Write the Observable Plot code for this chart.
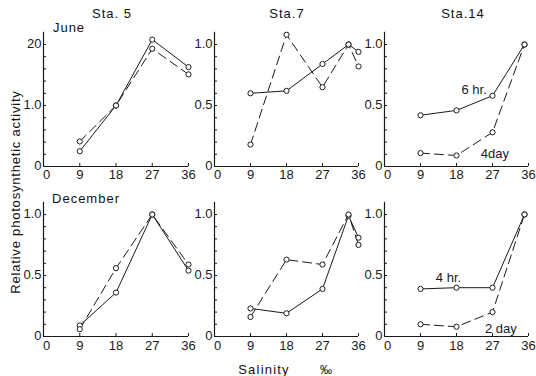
<!DOCTYPE html>
<html><head><meta charset="utf-8">
<script src="https://cdn.jsdelivr.net/npm/d3@7"></script>
<script src="https://cdn.jsdelivr.net/npm/@observablehq/plot@0.6"></script>
<style>
html,body{margin:0;padding:0;background:#fff;}
#wrap{position:relative;width:536px;height:376px;overflow:hidden;font-family:"Liberation Sans",sans-serif;color:#111;}
#wrap svg{position:absolute;left:0;top:0;}
.lbl{position:absolute;transform:translate(-50%,-50%);white-space:nowrap;font-size:13px;line-height:1;}
</style></head><body><div id="wrap"></div>
<script>
// ---- data ----
const salinity5 = [9, 18, 27, 36];
const salinity7 = [9, 18, 27, 33.5, 36];
const salinity14 = [9, 18, 27, 35];

const june5Solid = [0.25, 1.0, 2.08, 1.63];
const june5Dashed = [0.41, 1.0, 1.93, 1.51];
const june7Solid = [0.60, 0.62, 0.84, 1.0, 0.94];
const june7Dashed = [0.18, 1.08, 0.65, 1.0, 0.82];
const june14Solid = [0.42, 0.46, 0.58, 1.0];
const june14Dashed = [0.11, 0.09, 0.28, 1.0];

const dec5Solid = [0.09, 0.36, 1.0, 0.54];
const dec5Dashed = [0.06, 0.56, 1.0, 0.59];
const dec7Solid = [0.23, 0.19, 0.39, 0.99, 0.81];
const dec7Dashed = [0.16, 0.63, 0.59, 1.0, 0.75];
const dec14Solid = [0.39, 0.40, 0.40, 1.0];
const dec14Dashed = [0.10, 0.08, 0.20, 1.0];

const xTickLabels = [9, 18, 27, 36];
const xOriginLabel = [0];
const yTicksBig = [0, 1, 2];
const yTickTextBig = ["0", "1.0", "20"];
const yTicks = [0, 0.5, 1];
const yTickText = ["0", "0.5", "1.0"];
const stations = ["Sta. 5", "Sta.7", "Sta.14"];
const seasons = ["June", "December"];

// ---- layout ----
const W = 536, H = 376;
const cols = [{x0: 43, x1: 188}, {x0: 214, x1: 358}, {x0: 384, x1: 528}];
const rows = [{y0: 166, yTop: 31.8, pad: 3}, {y0: 336, yTop: 201.8, pad: 4}];

const wrap = document.getElementById("wrap");

const panels = [
  {c: 0, r: 0, xs: salinity5, solid: june5Solid, dashed: june5Dashed, ymax: 2.2, minor: d3.range(0.2, 2.11, 0.2), ticks: yTicksBig, tickText: yTickTextBig},
  {c: 1, r: 0, xs: salinity7, solid: june7Solid, dashed: june7Dashed, ymax: 1.1, minor: d3.range(0.1, 1.051, 0.1), ticks: yTicks, tickText: yTickText},
  {c: 2, r: 0, xs: salinity14, solid: june14Solid, dashed: june14Dashed, ymax: 1.1, minor: d3.range(0.1, 1.051, 0.1), ticks: yTicks, tickText: yTickText,
    notes: [{x: 22.4, y: 0.63, t: "6 hr."}, {x: 27.6, y: 0.10, t: "4day"}]},
  {c: 0, r: 1, xs: salinity5, solid: dec5Solid, dashed: dec5Dashed, ymax: 1.1, minor: d3.range(0.1, 1.051, 0.1), ticks: yTicks, tickText: yTickText},
  {c: 1, r: 1, xs: salinity7, solid: dec7Solid, dashed: dec7Dashed, ymax: 1.1, minor: d3.range(0.1, 1.051, 0.1), ticks: yTicks, tickText: yTickText},
  {c: 2, r: 1, xs: salinity14, solid: dec14Solid, dashed: dec14Dashed, ymax: 1.1, minor: d3.range(0.1, 1.051, 0.1), ticks: yTicks, tickText: yTickText,
    notes: [{x: 16, y: 0.48, t: "4 hr."}, {x: 29.1, y: 0.066, t: "2 day"}]}
];

const ink = "#1a1a1a";
for (const p of panels) {
  const col = cols[p.c], row = rows[p.r];
  const solid = p.xs.map((x, i) => ({x, y: p.solid[i]}));
  const dashed = p.xs.map((x, i) => ({x, y: p.dashed[i]}));
  const chart = Plot.plot({
    width: W, height: H,
    marginLeft: col.x0, marginRight: W - col.x1,
    marginTop: row.yTop, marginBottom: H - row.y0,
    style: {background: "transparent", fontFamily: '"Liberation Sans Narrow","Liberation Sans",sans-serif', fontSize: "13px", color: ink, overflow: "visible"},
    x: {domain: [0, 36]},
    y: {domain: [0, p.ymax]},
    marks: [
      Plot.ruleX([0], {stroke: ink, strokeWidth: 1.2}),
      Plot.ruleY([0], {stroke: ink, strokeWidth: 1.2}),
      Plot.ruleY(p.minor, {x1: 0, x2: 0, insetRight: -3, stroke: ink}),
      Plot.ruleX([9, 18, 27, 36], {y1: 0, y2: 0, insetBottom: 3, stroke: ink}),
      Plot.axisY({ticks: p.ticks, tickSize: 0, tickPadding: 2, dy: -1, tickFormat: (d) => p.tickText[p.ticks.indexOf(d)], label: null}),
      Plot.axisX({ticks: xTickLabels, tickSize: 0, tickPadding: row.pad, tickFormat: d => String(d), label: null}),
      Plot.axisX({ticks: xOriginLabel, tickSize: 0, tickPadding: row.pad, dx: 3, tickFormat: d => String(d), label: null}),
      Plot.line(solid, {x: "x", y: "y", stroke: ink, strokeWidth: 1}),
      Plot.line(dashed, {x: "x", y: "y", stroke: ink, strokeWidth: 1, strokeDasharray: "9,5"}),
      Plot.dot(solid.concat(dashed), {x: "x", y: "y", r: 2.6, stroke: ink, fill: "white", strokeWidth: 1}),
      Plot.text(p.notes || [], {x: "x", y: "y", text: "t", fontSize: 13, fill: ink, fontFamily: '"Liberation Sans",sans-serif'})
    ]
  });
  wrap.appendChild(chart);
}

function label(text, x, y, extra) {
  const d = document.createElement("div");
  d.className = "lbl";
  d.textContent = text;
  d.style.left = x + "px";
  d.style.top = y + "px";
  Object.assign(d.style, extra || {});
  wrap.appendChild(d);
  return d;
}
const stationX = [112, 287, 463];
stations.forEach((s, i) => label(s, stationX[i], 13, {letterSpacing: "1px"}));
label(seasons[0], 69, 27, {letterSpacing: "1px"});
label(seasons[1], 86, 198, {letterSpacing: "1px"});
label("Salinity", 264, 369, {letterSpacing: "1.2px"});
label("‰", 326, 370, {fontSize: "12px"});
label("Relative  photosynthetic  activity", 15, 192, {transform: "translate(-50%,-50%) rotate(-90deg)", letterSpacing: "0.8px"});
</script>
</body></html>
